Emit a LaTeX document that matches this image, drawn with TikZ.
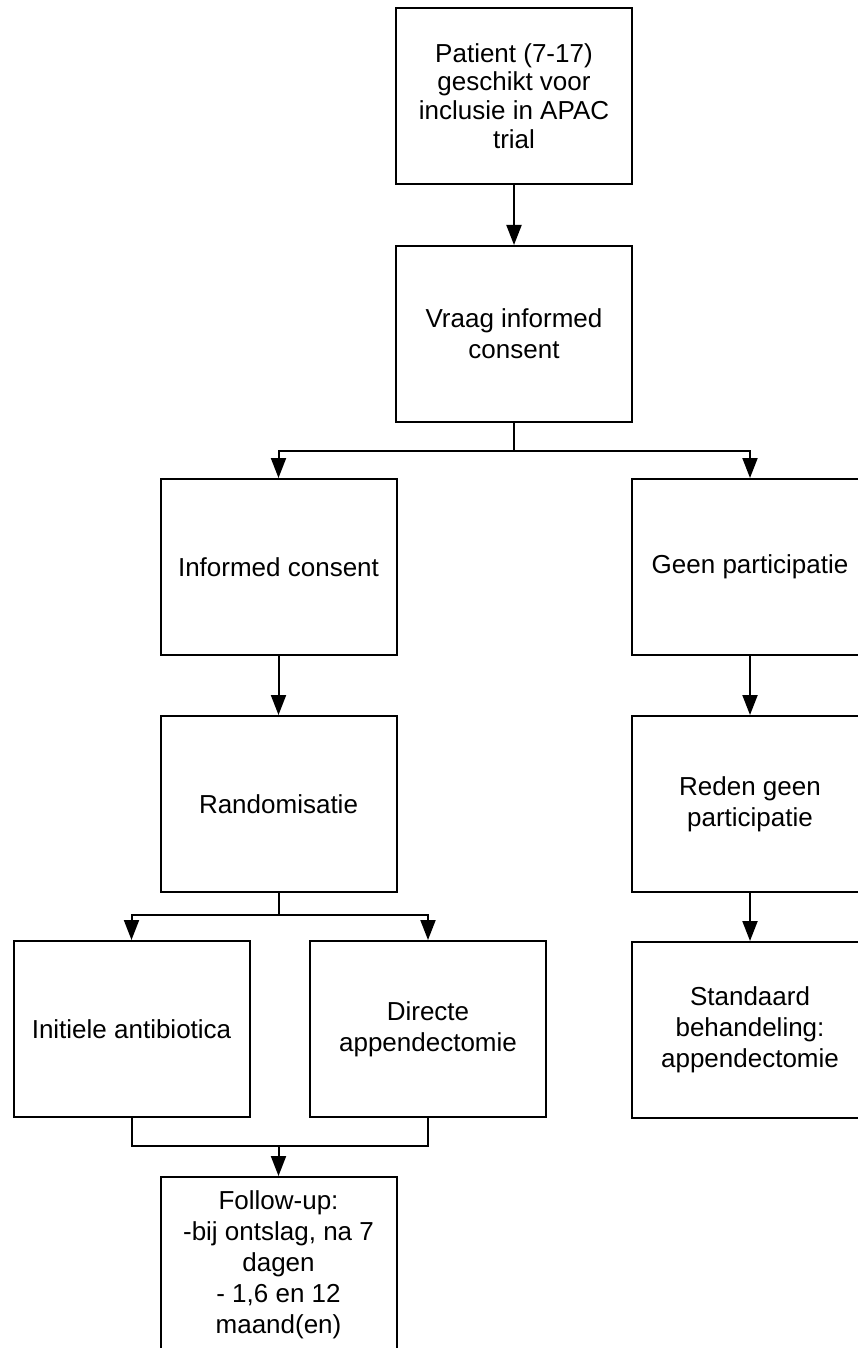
\documentclass[tikz,border=0pt]{standalone}
\usepackage{fontspec}
\setmainfont{Liberation Sans}
\usetikzlibrary{arrows.meta}

\begin{document}
\begin{tikzpicture}[x=0.5pt, y=-0.5pt, line cap=butt, line join=miter,
    >={Triangle[width=7.5pt, length=10pt]},
    box/.style={draw, line width=1pt, minimum width=118pt, minimum height=88pt,
        align=center, inner sep=2pt,
        font=\fontsize{13pt}{15.5pt}\selectfont},
    link/.style={->, line width=1pt}]

    % ------------------------------------------------------------------
    % 0. Page size (right column and last box run off the edge)
    % ------------------------------------------------------------------
    \useasboundingbox (0,0) rectangle (857,1348);

    % ------------------------------------------------------------------
    % 1. Top of the flow
    % ------------------------------------------------------------------
    \node[box, font=\fontsize{13pt}{14.4pt}\selectfont] (patient) at (514, 96)
        {Patient (7-17)\\geschikt voor\\inclusie in APAC\\trial};
    \node[box] (vraag) at (514, 334) {Vraag informed\\consent};

    % ------------------------------------------------------------------
    % 2. Left column: consent and randomisation
    % ------------------------------------------------------------------
    \node[box] (consent) at (278.5, 567) {Informed consent};
    \node[box] (random) at (278.5, 804) {Randomisatie};
    \node[box] (antibiotica) at (131.5, 1029) {Initiele antibiotica};
    \node[box] (directe) at (428, 1029) {Directe\\appendectomie};
    \node[box] (followup) at (278.5, 1265)
        {Follow-up:\\-bij ontslag, na 7\\dagen\\- 1,6 en 12\\maand(en)};

    % ------------------------------------------------------------------
    % 3. Right column: no participation
    % ------------------------------------------------------------------
    \node[box] (geen) at (750, 567) {Geen participatie};
    \node[box] (reden) at (750, 804) {Reden geen\\participatie};
    \node[box] (standaard) at (750, 1030)
        {Standaard\\behandeling:\\appendectomie};

    % ------------------------------------------------------------------
    % 4. Branch and merge points
    % ------------------------------------------------------------------
    \coordinate (split1) at (514, 451);
    \coordinate (split2) at (278.5, 915);
    \coordinate (merge) at (278.5, 1146);

    % ------------------------------------------------------------------
    % 5. Connectors
    % ------------------------------------------------------------------
    \draw[link] (patient) -- (vraag);

    \draw[line width=1pt] (vraag.south) -- (split1);
    \draw[link] (split1) -| (consent.north);
    \draw[link] (split1) -| (geen.north);

    \draw[link] (consent) -- (random);
    \draw[line width=1pt] (random.south) -- (split2);
    \draw[link] (split2) -| (antibiotica.north);
    \draw[link] (split2) -| (directe.north);

    \draw[line width=1pt] (antibiotica.south) |- (merge);
    \draw[line width=1pt] (directe.south) |- (merge);
    \draw[link] (merge) -- (followup.north);

    \draw[link] (geen) -- (reden);
    \draw[link] (reden) -- (standaard);

\end{tikzpicture}
\end{document}
